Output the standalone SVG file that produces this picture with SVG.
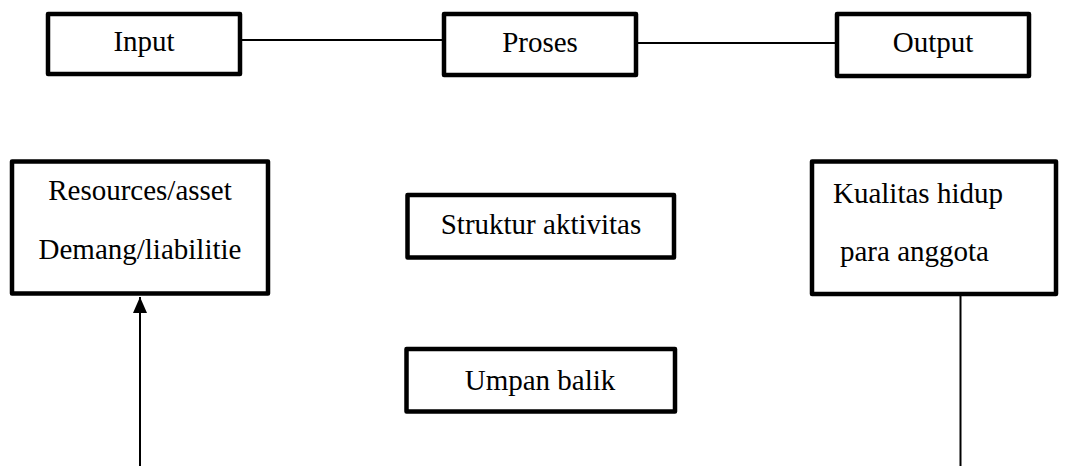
<svg xmlns="http://www.w3.org/2000/svg" width="1067" height="466" viewBox="0 0 1067 466">
<style>
.box{fill:#fff;stroke:#000;stroke-width:4.5;stroke-linejoin:round}
.t{font-family:'Liberation Serif','DejaVu Serif',serif;font-size:29px;fill:#000}
.c{text-anchor:middle}
.ln{stroke:#000;stroke-width:2;fill:none}
</style>
<defs>
<marker id="ah" viewBox="0 0 16 14" refX="16" refY="7" markerWidth="16" markerHeight="14" markerUnits="userSpaceOnUse" orient="auto">
<path d="M0,0 L16,7 L0,14 Z" fill="#000"/>
</marker>
</defs>
<rect width="1067" height="466" fill="#fff"/>
<g id="connectors">
<line class="ln" x1="240" y1="40" x2="444" y2="40"/>
<line class="ln" x1="636" y1="43" x2="837" y2="43"/>
<line class="ln" x1="140" y1="466" x2="140" y2="297" stroke-width="2.3" marker-end="url(#ah)"/>
<line class="ln" x1="960.5" y1="294" x2="960.5" y2="466" stroke-width="1.8"/>
</g>
<g id="input">
<rect class="box" x="48" y="14" width="192" height="60"/>
<text class="t c" x="144" y="51">Input</text>
</g>
<g id="proses">
<rect class="box" x="444" y="14" width="192" height="61"/>
<text class="t c" x="540" y="52">Proses</text>
</g>
<g id="output">
<rect class="box" x="837" y="14" width="192" height="62"/>
<text class="t c" x="933" y="52">Output</text>
</g>
<g id="resources">
<rect class="box" x="12" y="161.5" width="256" height="132"/>
<text class="t c" x="140" y="200">Resources/asset</text>
<text class="t c" x="140" y="259">Demang/liabilitie</text>
</g>
<g id="struktur">
<rect class="box" x="407.5" y="195" width="266.5" height="62.5"/>
<text class="t c" x="541" y="234">Struktur aktivitas</text>
</g>
<g id="umpan">
<rect class="box" x="406.5" y="349" width="268.5" height="62.5"/>
<text class="t c" x="540" y="390">Umpan balik</text>
</g>
<g id="kualitas">
<rect class="box" x="812" y="161.5" width="244" height="132.5"/>
<text class="t" x="833" y="203">Kualitas hidup</text>
<text class="t" x="840" y="261">para anggota</text>
</g>
</svg>
